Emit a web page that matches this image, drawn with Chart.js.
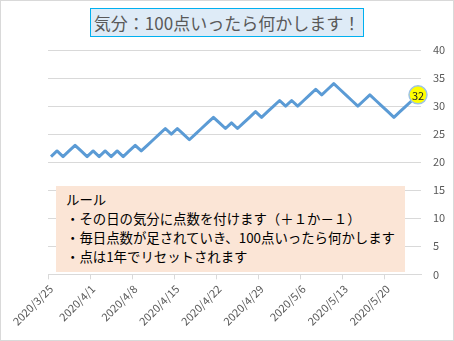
<!DOCTYPE html>
<html>
<head>
<meta charset="utf-8">
<script src="https://cdn.jsdelivr.net/npm/chart.js@4"></script>
<style>
  html, body { margin: 0; padding: 0; background: #fff; }
  #wrap {
    position: relative; width: 454px; height: 341px;
    box-sizing: border-box; border: 1px solid #d9d9d9;
    font-family: "Noto Sans CJK JP", sans-serif;
  }
  #chart { position: absolute; left: 0; top: 0; }
  #title {
    position: absolute; left: 89px; top: 7px; width: 272px; height: 27px;
    border: 1px solid #00b0f0; background: #deebf7; color: #595959;
    font-size: 17px; line-height: 27px; text-align: center; white-space: nowrap;
  }
  #rules {
    position: absolute; left: 55px; top: 185px; width: 339px; height: 79px;
    padding: 4px 0 3px 10px; background: #fbe5d6; color: #000;
    font-size: 13.4px; line-height: 19px; white-space: nowrap;
  }
</style>
</head>
<body>
<div id="wrap">
  <canvas id="chart" width="452" height="339"></canvas>
  <div id="title">気分：100点いったら何かします！</div>
  <div id="rules">
    ルール<br>
    ・その日の気分に点数を付けます（＋１か－１）<br>
    ・毎日点数が足されていき、100点いったら何かします<br>
    ・点は1年でリセットされます
  </div>
</div>
<script>
const dates = [
  '2020/3/25','2020/3/26','2020/3/27','2020/3/28','2020/3/29','2020/3/30','2020/3/31',
  '2020/4/1','2020/4/2','2020/4/3','2020/4/4','2020/4/5','2020/4/6','2020/4/7',
  '2020/4/8','2020/4/9','2020/4/10','2020/4/11','2020/4/12','2020/4/13','2020/4/14',
  '2020/4/15','2020/4/16','2020/4/17','2020/4/18','2020/4/19','2020/4/20','2020/4/21',
  '2020/4/22','2020/4/23','2020/4/24','2020/4/25','2020/4/26','2020/4/27','2020/4/28',
  '2020/4/29','2020/4/30','2020/5/1','2020/5/2','2020/5/3','2020/5/4','2020/5/5',
  '2020/5/6','2020/5/7','2020/5/8','2020/5/9','2020/5/10','2020/5/11','2020/5/12',
  '2020/5/13','2020/5/14','2020/5/15','2020/5/16','2020/5/17','2020/5/18','2020/5/19',
  '2020/5/20','2020/5/21','2020/5/22','2020/5/23','2020/5/24','2020/5/25'
];
const scores = [
  21,22,21,22,23,22,21, 22,21,22,21,22,21,22,
  23,22,23,24,25,26,25, 26,25,24,25,26,27,28,
  27,26,27,26,27,28,29, 28,29,30,31,30,31,30,
  31,32,33,32,33,34,33, 32,31,30,31,32,31,30,
  29,28,29,30,31,32
];
const tickDates = ['2020/3/25','2020/4/1','2020/4/8','2020/4/15','2020/4/22',
  '2020/4/29','2020/5/6','2020/5/13','2020/5/20'];
const yTicks = [0, 5, 10, 15, 20, 25, 30, 35, 40];

const lastIdx = scores.length - 1;

// draws the value label on the last point
const lastLabel = {
  id: 'lastLabel',
  afterDatasetsDraw(chart) {
    const pt = chart.getDatasetMeta(0).data[lastIdx];
    const c = chart.ctx;
    c.save();
    c.fillStyle = '#222';
    c.font = '11px "Noto Sans CJK JP"';
    c.textAlign = 'center';
    c.textBaseline = 'middle';
    c.fillText(String(scores[lastIdx]), pt.x, pt.y + 0.5);
    c.restore();
  }
};

new Chart(document.getElementById('chart'), {
  type: 'line',
  data: {
    labels: dates,
    datasets: [{
      data: scores,
      borderColor: '#5b9bd5',
      borderWidth: 3,
      borderJoinStyle: 'round',
      tension: 0,
      pointRadius: ctx => ctx.dataIndex === lastIdx ? 9 : 0,
      pointHoverRadius: ctx => ctx.dataIndex === lastIdx ? 9 : 0,
      pointBackgroundColor: '#ffff00',
      pointBorderColor: '#9dc3e6',
      pointBorderWidth: 1.5
    }]
  },
  options: {
    responsive: false,
    animation: false,
    layout: { padding: { top: 49, right: 0, left: 47, bottom: 9 } },
    plugins: { legend: { display: false }, tooltip: { enabled: false } },
    scales: {
      x: {
        offset: true,
        afterFit: axis => { axis.paddingRight = 0; },
        grid: {
          offset: true,
          drawOnChartArea: false,
          tickLength: 5,
          color: ctx => (ctx.index !== undefined && tickDates.includes(dates[ctx.index])) ? '#d9d9d9' : 'rgba(0,0,0,0)'
        },
        border: { color: '#d9d9d9' },
        ticks: {
          autoSkip: false,
          maxRotation: 45,
          minRotation: 45,
          color: '#595959',
          font: { size: 11, family: '"Noto Sans CJK JP"' },
          callback: (v, i) => tickDates.includes(dates[i]) ? dates[i] : ''
        }
      },
      y: {
        position: 'right',
        min: yTicks[0],
        max: yTicks[yTicks.length - 1],
        afterBuildTicks: axis => { axis.ticks = yTicks.map(v => ({ value: v })); },
        afterFit: axis => { axis.width = 32; },
        grid: { color: '#d9d9d9', drawTicks: false },
        border: { display: false },
        ticks: {
          padding: 12,
          color: '#595959',
          font: { size: 11, family: '"Noto Sans CJK JP"' }
        }
      }
    }
  },
  plugins: [lastLabel]
});
</script>
</body>
</html>
